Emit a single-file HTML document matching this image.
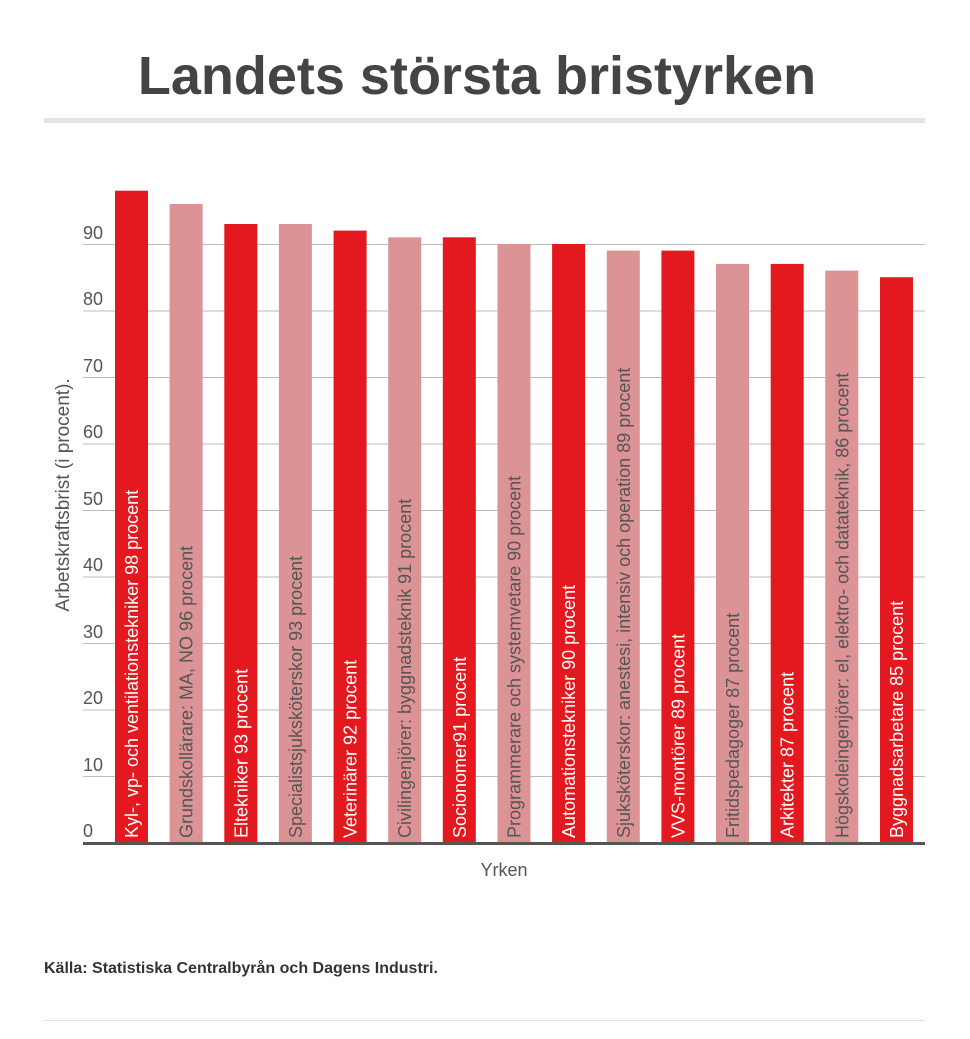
<!DOCTYPE html>
<html><head><meta charset="utf-8"><style>
body{margin:0;background:#fff;width:970px;height:1034px;overflow:hidden;font-family:"Liberation Sans",sans-serif}
</style></head><body>
<svg width="970" height="1034" xmlns="http://www.w3.org/2000/svg" font-family="Liberation Sans, sans-serif">
<text x="477" y="94" text-anchor="middle" font-size="54" font-weight="bold" fill="#444">Landets största bristyrken</text>
<rect x="44" y="118" width="881" height="5" fill="#e3e3e3"/>
<g stroke="#bbb" stroke-width="1">
<line x1="83" x2="925" y1="244.5" y2="244.5"/><line x1="83" x2="925" y1="311" y2="311"/><line x1="83" x2="925" y1="377.5" y2="377.5"/><line x1="83" x2="925" y1="444" y2="444"/><line x1="83" x2="925" y1="510.5" y2="510.5"/><line x1="83" x2="925" y1="577" y2="577"/><line x1="83" x2="925" y1="643.5" y2="643.5"/><line x1="83" x2="925" y1="710" y2="710"/><line x1="83" x2="925" y1="776.5" y2="776.5"/>
</g>
<g font-size="18" fill="#555">
<text x="83" y="239">90</text><text x="83" y="305">80</text><text x="83" y="372">70</text><text x="83" y="438">60</text><text x="83" y="505">50</text><text x="83" y="571">40</text><text x="83" y="638">30</text><text x="83" y="704">20</text><text x="83" y="771">10</text><text x="83" y="837">0</text>
</g>
<text transform="translate(69,495) rotate(-90)" text-anchor="middle" font-size="19" fill="#555">Arbetskraftsbrist (i procent).</text>
<g font-size="18">
<rect x="115" y="190.7" width="33" height="652.3" fill="#e3191f"/>
<rect x="169.6" y="204" width="33" height="639" fill="#dc9395"/>
<rect x="224.3" y="224" width="33" height="619" fill="#e3191f"/>
<rect x="278.9" y="224" width="33" height="619" fill="#dc9395"/>
<rect x="333.6" y="230.6" width="33" height="612.4" fill="#e3191f"/>
<rect x="388.2" y="237.3" width="33" height="605.7" fill="#dc9395"/>
<rect x="442.8" y="237.3" width="33" height="605.7" fill="#e3191f"/>
<rect x="497.5" y="244" width="33" height="599" fill="#dc9395"/>
<rect x="552.1" y="244" width="33" height="599" fill="#e3191f"/>
<rect x="606.8" y="250.6" width="33" height="592.4" fill="#dc9395"/>
<rect x="661.4" y="250.6" width="33" height="592.4" fill="#e3191f"/>
<rect x="716" y="263.9" width="33" height="579.1" fill="#dc9395"/>
<rect x="770.7" y="263.9" width="33" height="579.1" fill="#e3191f"/>
<rect x="825.3" y="270.6" width="33" height="572.4" fill="#dc9395"/>
<rect x="880" y="277.2" width="33" height="565.8" fill="#e3191f"/>
<g fill="#fff">
<text transform="translate(138,838) rotate(-90)">Kyl-, vp- och ventilationstekniker 98 procent</text>
<text transform="translate(247.3,838) rotate(-90)">Eltekniker 93 procent</text>
<text transform="translate(356.6,838) rotate(-90)">Veterinärer 92 procent</text>
<text transform="translate(465.8,838) rotate(-90)">Socionomer91 procent</text>
<text transform="translate(575.1,838) rotate(-90)">Automationstekniker 90 procent</text>
<text transform="translate(684.4,838) rotate(-90)">VVS-montörer 89 procent</text>
<text transform="translate(793.7,838) rotate(-90)">Arkitekter 87 procent</text>
<text transform="translate(903,838) rotate(-90)">Byggnadsarbetare 85 procent</text>
</g>
<g fill="#555">
<text transform="translate(192.6,838) rotate(-90)">Grundskollärare: MA, NO 96 procent</text>
<text transform="translate(301.9,838) rotate(-90)">Specialistsjuksköterskor 93 procent</text>
<text transform="translate(411.2,838) rotate(-90)">Civilingenjörer: byggnadsteknik 91 procent</text>
<text transform="translate(520.5,838) rotate(-90)">Programmerare och systemvetare 90 procent</text>
<text transform="translate(629.8,838) rotate(-90)">Sjuksköterskor: anestesi, intensiv och operation 89 procent</text>
<text transform="translate(739,838) rotate(-90)">Fritidspedagoger 87 procent</text>
<text transform="translate(848.3,838) rotate(-90)">Högskoleingenjörer: el, elektro- och datateknik, 86 procent</text>
</g>
</g>
<rect x="83" y="842" width="842" height="3" fill="#555"/>
<text x="504" y="876" text-anchor="middle" font-size="18" fill="#555">Yrken</text>
<text x="44" y="973" font-size="16" font-weight="bold" fill="#333">Källa: Statistiska Centralbyrån och Dagens Industri.</text>
<rect x="44" y="1020" width="881" height="1" fill="#e3e3e3"/>
</svg>
</body></html>
